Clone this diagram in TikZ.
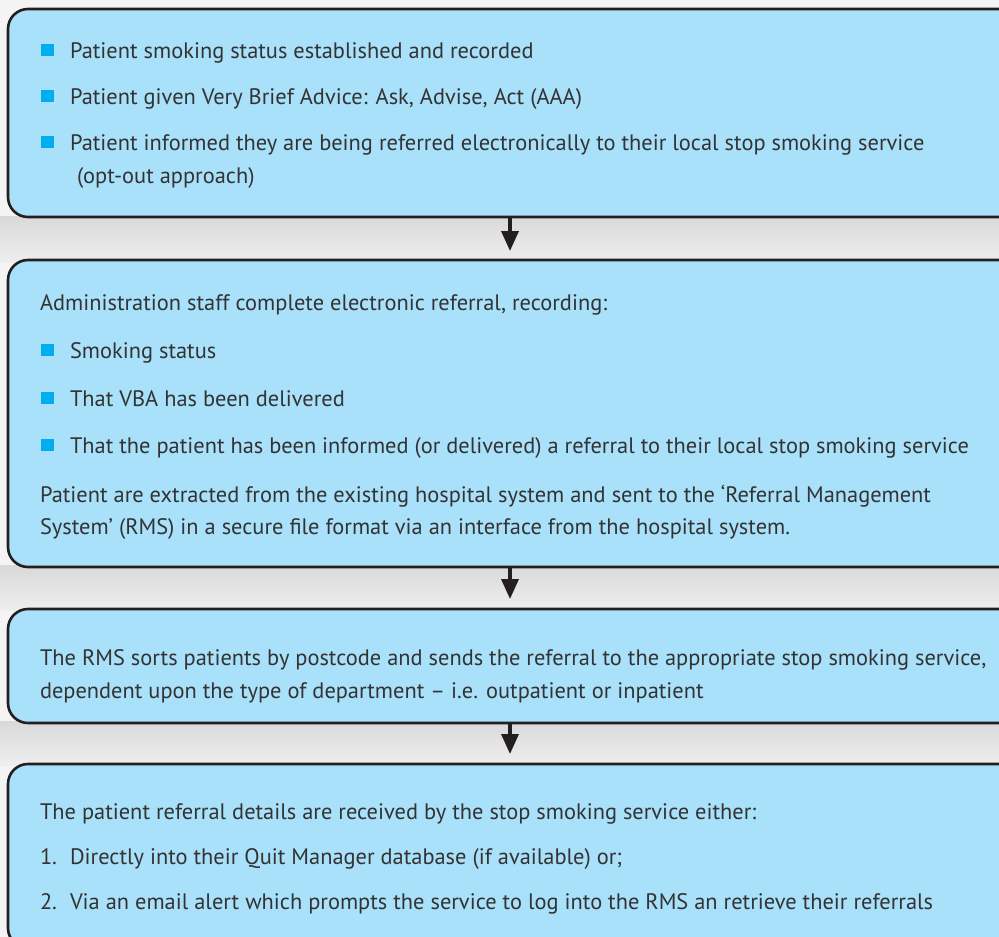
\documentclass[tikz,border=0pt]{standalone}
\usepackage{fontspec}
\setmainfont{PT Sans}
\usetikzlibrary{arrows.meta}
\definecolor{bgc}{HTML}{F4F4F4}
\definecolor{gapdark}{HTML}{D9D9D9}
\definecolor{gaplight}{HTML}{EEEEEE}
\definecolor{boxfill}{HTML}{A9E0FA}
\definecolor{boxline}{HTML}{231F20}
\definecolor{bulc}{HTML}{00AEEF}
\definecolor{textc}{HTML}{333333}
\tikzset{
  panel/.style={draw=boxline, line width=2.6pt, fill=boxfill, rounded corners=20pt, inner sep=0pt, outer sep=0pt},
  txt/.style={anchor=base west, inner sep=0pt, outer sep=0pt, text=textc, font=\fontsize{22.4}{26}\selectfont},
  bulletsq/.style={fill=bulc, minimum width=13pt, minimum height=12.5pt, inner sep=0pt, outer sep=0pt},
  flowarrow/.style={draw=boxline, line width=3.5pt, -{Triangle[width=17pt,length=20pt]}}
}
\begin{document}
\begin{tikzpicture}[x=1pt,y=-1pt]
\useasboundingbox (0,0) rectangle (999,937);
\clip (0,0) rectangle (999,937);
\fill[bgc] (0,0) rectangle (999,937);
\shade[top color=gapdark, bottom color=gaplight] (0,216) rectangle (999,262);
\shade[top color=gapdark, bottom color=gaplight] (0,565) rectangle (999,610);
\shade[top color=gapdark, bottom color=gaplight] (0,721) rectangle (999,765);

% panels
\node[panel, minimum width=1012pt, minimum height=208pt] (b1) at (514,113) {};
\node[panel, minimum width=1012pt, minimum height=307pt] (b2) at (514,413.5) {};
\node[panel, minimum width=1012pt, minimum height=114pt] (b3) at (514,666) {};
\node[panel, minimum width=1012pt, minimum height=184pt] (b4) at (514,856) {};

% arrows
\coordinate (t1) at (510,251);
\coordinate (t2) at (510,599);
\coordinate (t3) at (510,754);
\draw[flowarrow] (b1.south -| t1) -- (t1);
\draw[flowarrow] (b2.south -| t2) -- (t2);
\draw[flowarrow] (b3.south -| t3) -- (t3);

% box 1
\node[bulletsq] (q11) at (47.5,50) {};
\node[txt] (l11) at (70,58) {Patient smoking status established and recorded};
\node[bulletsq] (q12) at (47.5,96) {};
\node[txt] (l12) at (70,104) {Patient given Very Brief Advice: Ask, Advise, Act (AAA)};
\node[bulletsq] (q13) at (47.5,142) {};
\node[txt] (l13) at (70,150) {Patient informed they are being referred electronically to their local stop smoking service};
\node[txt] (l14) at (77,183) {(opt-out approach)};

% box 2
\node[txt] (l21) at (40,310) {Administration staff complete electronic referral, recording:};
\node[bulletsq] (q21) at (47.5,350) {};
\node[txt] (l22) at (70,358) {Smoking status};
\node[bulletsq] (q22) at (47.5,398) {};
\node[txt] (l23) at (70,406) {That VBA has been delivered};
\node[bulletsq] (q23) at (47.5,445) {};
\node[txt] (l24) at (70,453) {That the patient has been informed (or delivered) a referral to their local stop smoking service};
\node[txt] (l25) at (40,502) {Patient are extracted from the existing hospital system and sent to the ‘Referral Management};
\node[txt] (l26) at (40,534) {System’ (RMS) in a secure file format via an interface from the hospital system.};

% box 3
\node[txt] (l31) at (40,665) {The RMS sorts patients by postcode and sends the referral to the appropriate stop smoking service,};
\node[txt] (l32) at (40,698) {dependent upon the type of department – i.e. outpatient or inpatient};

% box 4
\node[txt] (l41) at (40,819) {The patient referral details are received by the stop smoking service either:};
\node[txt] (n1) at (40,864) {1.};
\node[txt] (l42) at (70,864) {Directly into their Quit Manager database (if available) or;};
\node[txt] (n2) at (40,909) {2.};
\node[txt] (l43) at (70,909) {Via an email alert which prompts the service to log into the RMS an retrieve their referrals};
\end{tikzpicture}
\end{document}
